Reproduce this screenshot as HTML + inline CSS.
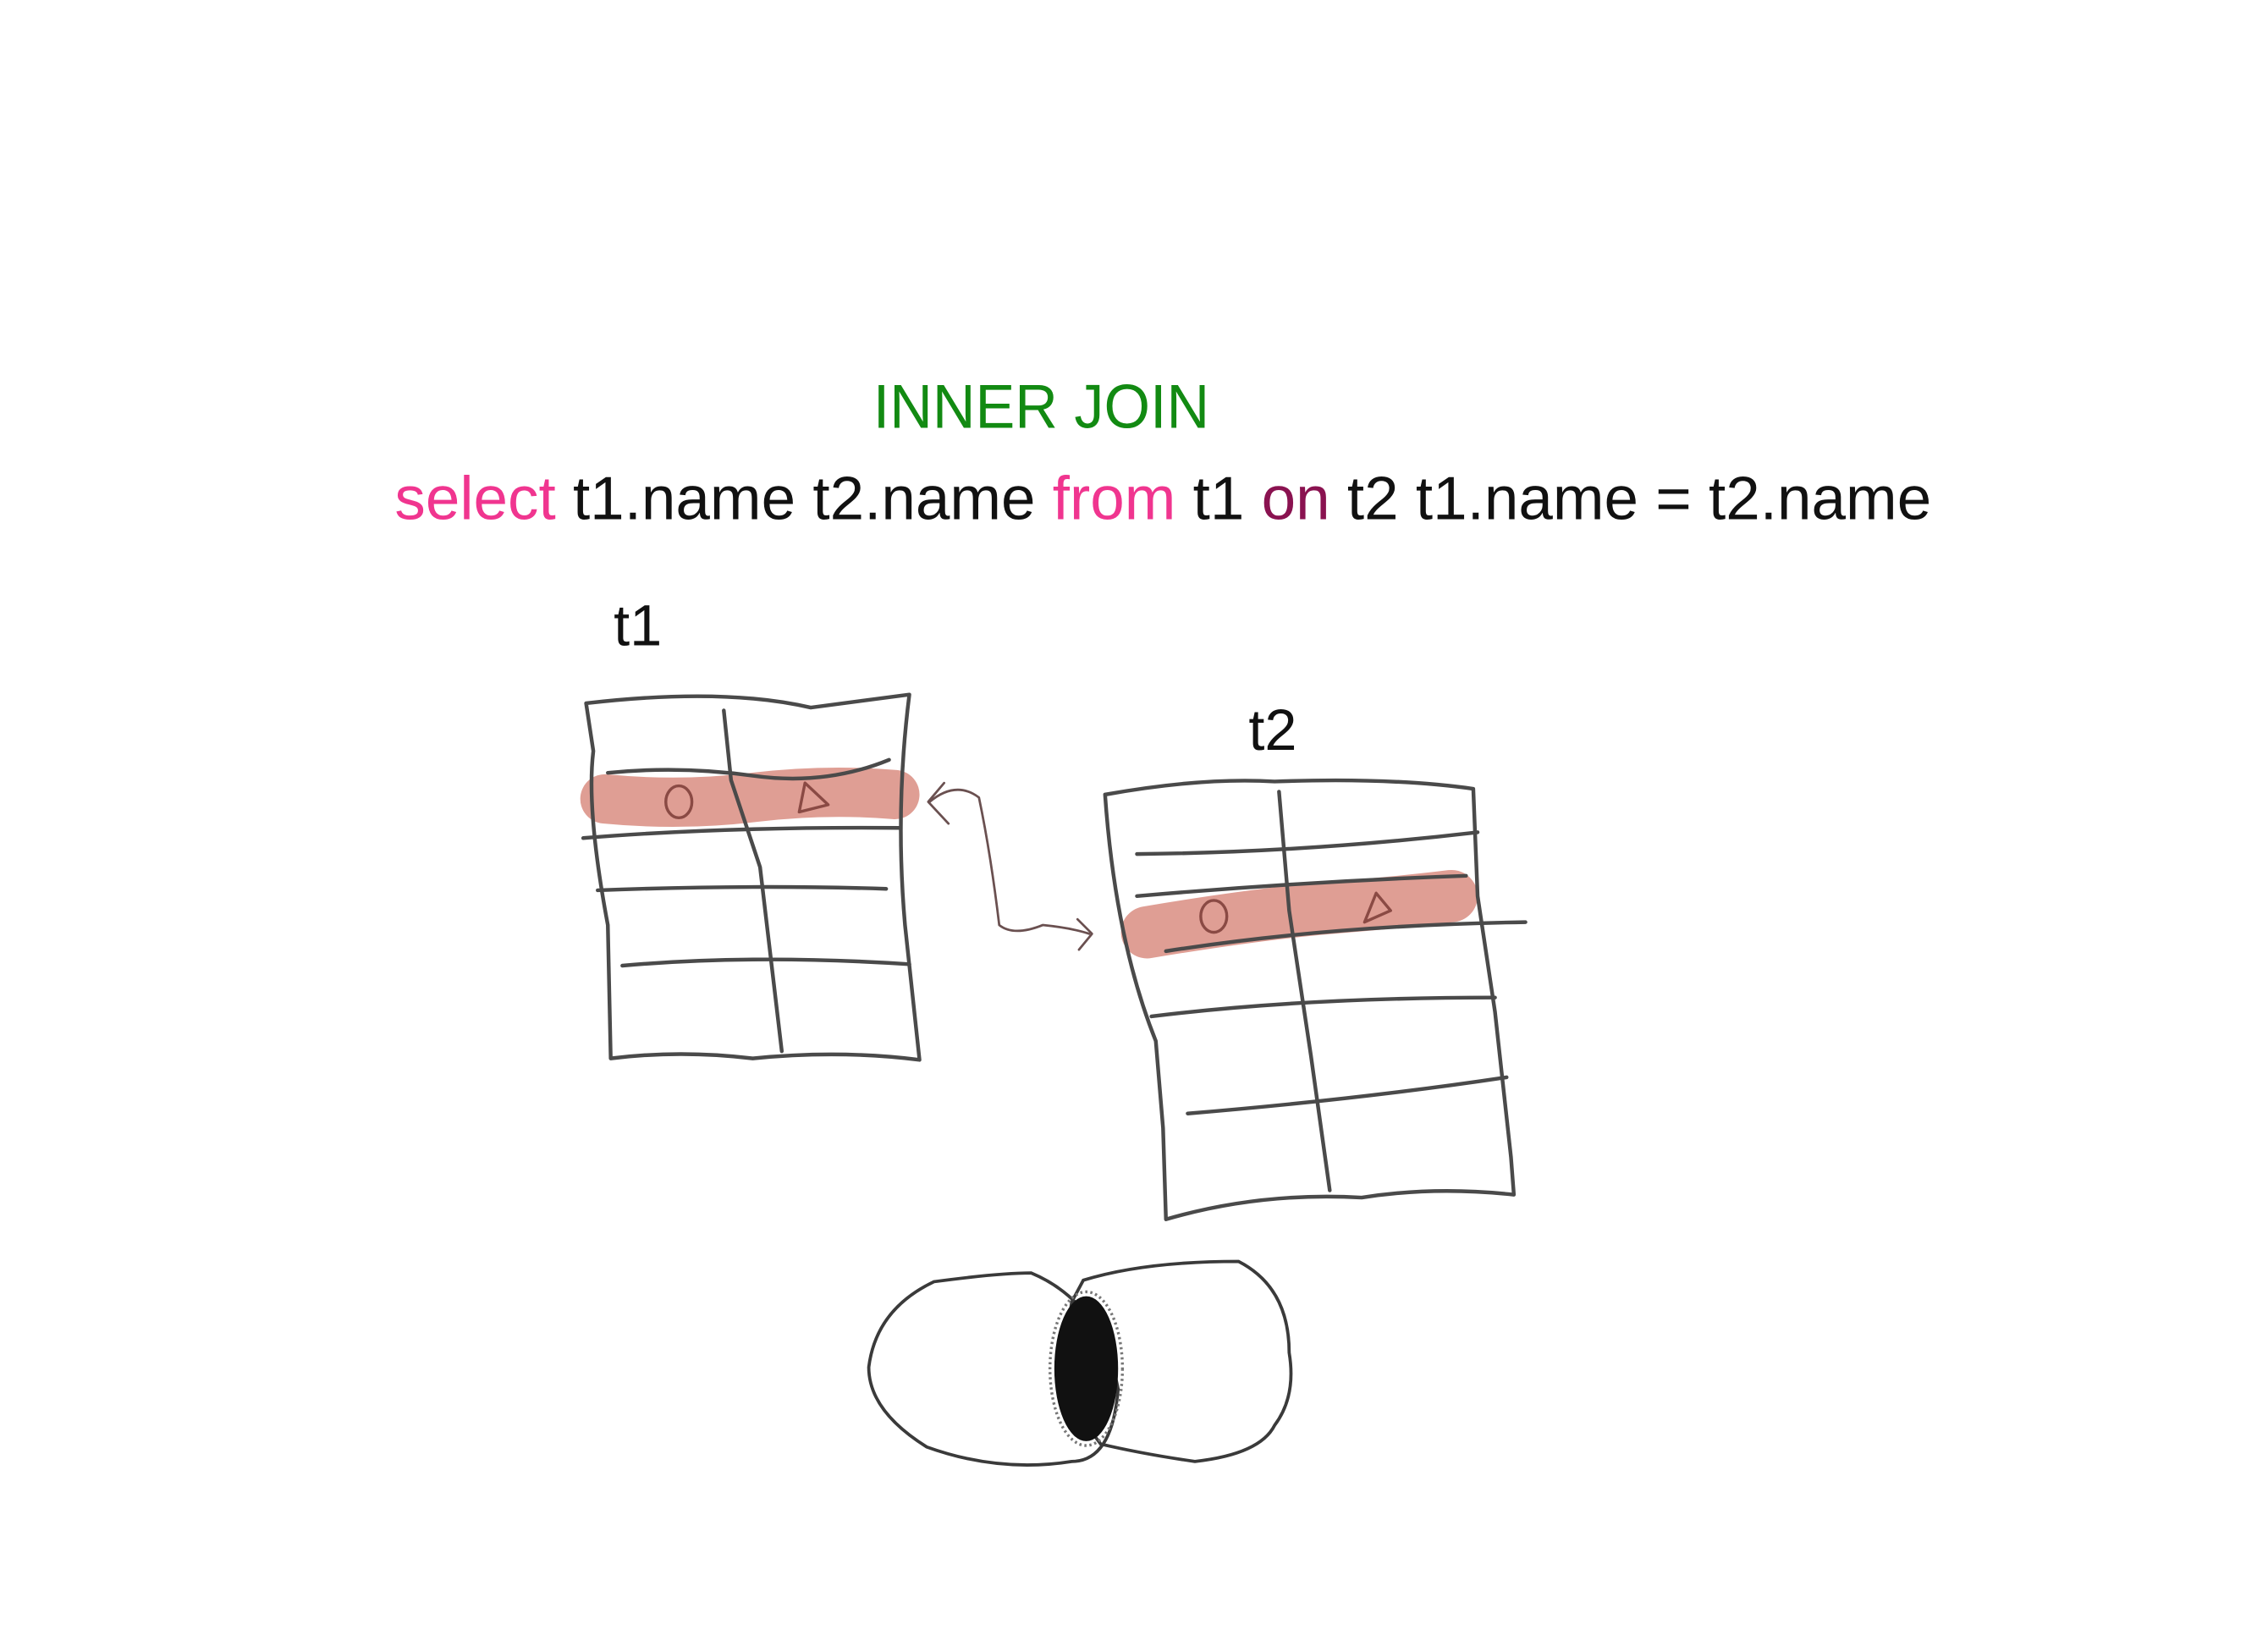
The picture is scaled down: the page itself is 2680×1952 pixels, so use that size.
<!DOCTYPE html>
<html><head><meta charset="utf-8"><style>
html,body{margin:0;padding:0;background:#fff;}
svg{display:block;}
</style></head><body>
<svg width="2680" height="1952" viewBox="0 0 1552 1130.4" xmlns="http://www.w3.org/2000/svg">
<rect width="1552" height="1131" fill="#fff"/>
<g transform="translate(-0.7,-1.9) scale(0.992)">
<text x="603" y="297" font-family="Liberation Sans, sans-serif" font-size="43" fill="#128a12" textLength="232" lengthAdjust="spacingAndGlyphs">INNER JOIN</text>
<text x="273" y="360" font-family="Liberation Sans, sans-serif" font-size="42" textLength="1060" lengthAdjust="spacingAndGlyphs"><tspan fill="#f0358f">select</tspan><tspan fill="#111"> t1.name t2.name </tspan><tspan fill="#f0358f">from</tspan><tspan fill="#111"> t1 </tspan><tspan fill="#8a1250">on</tspan><tspan fill="#111"> t2 t1.name = t2.name</tspan></text>
<text x="424" y="447" font-family="Liberation Sans, sans-serif" font-size="40" fill="#111">t1</text>
<text x="862" y="519" font-family="Liberation Sans, sans-serif" font-size="40" fill="#111">t2</text>

<g fill="none" stroke-linecap="round" stroke-linejoin="round">
<path d="M418 553 Q470 558 520 552 T618 550" stroke="#dc9488" stroke-width="34" opacity="0.9"/>
<path d="M792 645 Q870 632 920 628 T1002 620" stroke="#dc9488" stroke-width="36" opacity="0.9"/>
</g>
<g fill="none" stroke="#4a4a4a" stroke-width="2.6" stroke-linecap="round" stroke-linejoin="round">
<path d="M405 487 Q500 476 560 490 L628 481 Q618 560 625 640 L635 733 Q580 726 520 732 Q470 726 422 732 L420 640 Q405 560 410 520 Z"/>
<path d="M420 535 Q470 530 520 537 T614 526"/>
<path d="M403 580 Q500 572 622 573"/>
<path d="M413 616 Q520 612 612 615"/>
<path d="M430 668 Q520 660 628 667"/>
<path d="M500 492 L505 540 L525 600 L540 727"/>
<path d="M763 550 Q830 538 880 541 Q960 538 1017 546 L1020 620 L1032 700 L1043 800 L1045 826 Q990 820 940 828 Q870 824 805 843 L803 780 L798 720 Q770 650 763 550 Z"/>
<path d="M785 591 Q900 590 1020 576"/>
<path d="M785 620 Q900 610 1012 606"/>
<path d="M805 658 Q920 640 1053 638"/>
<path d="M795 703 Q900 690 1032 690"/>
<path d="M820 770 Q940 760 1040 745"/>
<path d="M883 548 L890 630 L905 730 L918 823"/>
</g>
<g fill="none" stroke="#8a4a44" stroke-width="2" stroke-linecap="round" stroke-linejoin="round">
<ellipse cx="469" cy="555" rx="9" ry="11"/>
<path d="M556 542 L552 562 L572 557 Z"/>
<ellipse cx="838" cy="634" rx="9" ry="11"/>
<path d="M950 618 L942 638 L960 630 Z"/>
</g>
<g fill="none" stroke="#6a5050" stroke-width="1.6" stroke-linecap="round" stroke-linejoin="round">
<path d="M642 555 Q660 540 676 552 Q684 590 690 640 Q700 648 720 640 Q740 642 752 646"/>
<path d="M652 542 L641 555 L655 570"/>
<path d="M744 636 L754 646 L745 657"/>
</g>
<g fill="none" stroke="#3a3a3a" stroke-width="2.2" stroke-linecap="round">
<path d="M712 880 Q760 900 772 960 Q768 1010 740 1010 Q690 1018 640 1000 Q600 975 600 945 Q605 905 645 886 Q690 880 712 880 Z"/>
<path d="M748 885 Q790 872 855 872 Q890 890 890 935 Q895 965 880 985 Q870 1005 825 1010 Q790 1005 760 998 Q730 960 740 900 Z"/>
</g>
<ellipse cx="750" cy="946" rx="22" ry="50" fill="#111"/>
<ellipse cx="750" cy="946" rx="25" ry="53" fill="none" stroke="#777" stroke-width="2" stroke-dasharray="1.5 2"/>
</g>
</svg>
</body></html>
